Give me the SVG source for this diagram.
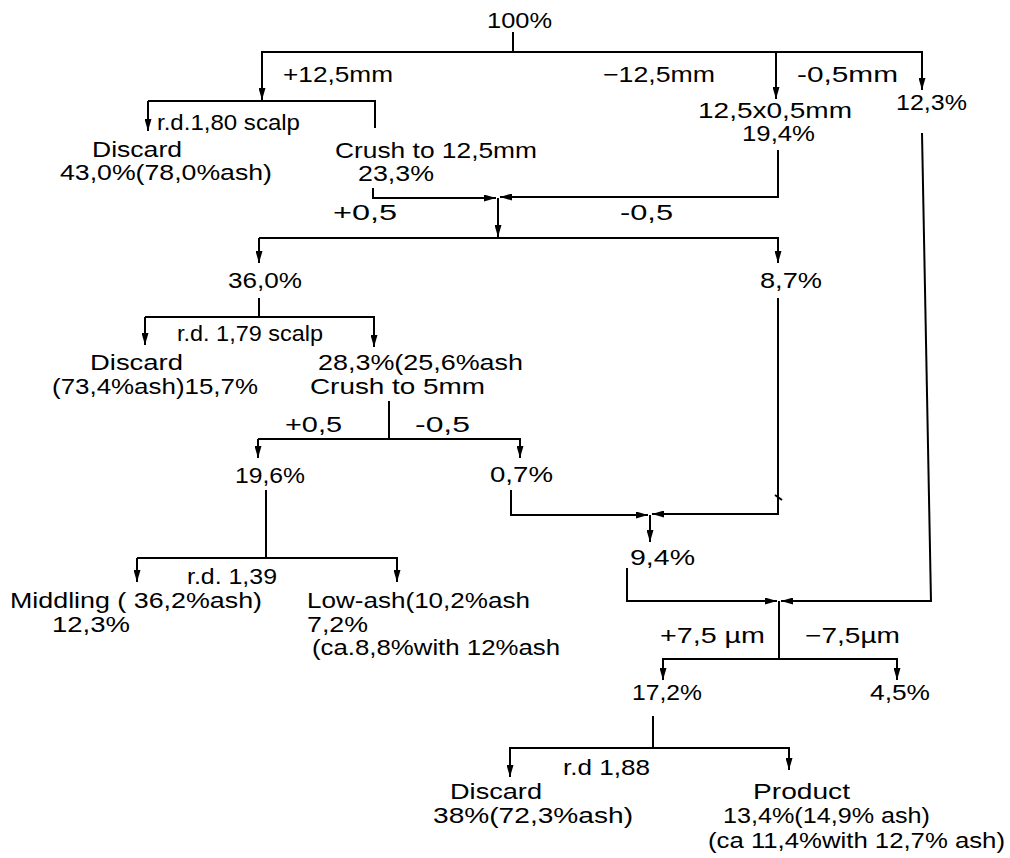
<svg xmlns="http://www.w3.org/2000/svg" width="1010" height="858" viewBox="0 0 1010 858">
<style>
text{font-family:"Liberation Sans","DejaVu Sans",sans-serif;font-size:22px;fill:#000}
.c line,.c polyline{stroke:#000;stroke-width:2;fill:none}
.a{marker-end:url(#ah)}
</style>
<defs>
<marker id="ah" markerUnits="userSpaceOnUse" markerWidth="12" markerHeight="7" refX="12" refY="3.5" orient="auto">
<path d="M0,0 L12,3.5 L0,7 Z" fill="#000"/>
</marker>
</defs>
<rect width="1010" height="858" fill="#fff"/>
<g id="connectors" class="c">
<line x1="513" y1="32" x2="513" y2="52"/>
<line x1="261" y1="52" x2="923" y2="52"/>
<line class="a" x1="262" y1="52" x2="262" y2="100"/>
<line class="a" x1="776" y1="52" x2="776" y2="99"/>
<line class="a" x1="922" y1="52" x2="922" y2="90"/>
<polyline points="148,101 375,101 375,128"/>
<line class="a" x1="148" y1="101" x2="148" y2="131"/>
<line x1="922" y1="133" x2="931" y2="602"/>
<polyline class="a" points="373,188 373,198 496,198"/>
<polyline class="a" points="778,150 778,197 500,197"/>
<line class="a" x1="498" y1="198" x2="498" y2="237"/>
<line x1="259" y1="238" x2="779" y2="238"/>
<line class="a" x1="259" y1="238" x2="259" y2="263"/>
<line class="a" x1="778" y1="238" x2="778" y2="263"/>
<line x1="259" y1="298" x2="259" y2="317"/>
<line x1="145" y1="317" x2="375" y2="317"/>
<line class="a" x1="145" y1="317" x2="145" y2="345"/>
<line class="a" x1="374" y1="317" x2="374" y2="347"/>
<line x1="389" y1="401" x2="389" y2="439"/>
<line x1="258" y1="439" x2="521" y2="439"/>
<line class="a" x1="258" y1="439" x2="258" y2="458"/>
<line class="a" x1="520" y1="439" x2="520" y2="458"/>
<line x1="266" y1="490" x2="266" y2="558"/>
<line x1="137" y1="558" x2="398" y2="558"/>
<line class="a" x1="137" y1="558" x2="137" y2="582"/>
<line class="a" x1="397" y1="558" x2="397" y2="582"/>
<polyline class="a" points="511,490 511,515 648,515"/>
<polyline class="a" points="778,298 778,514 652,514"/>
<line x1="775" y1="495" x2="782" y2="500"/>
<line class="a" x1="650" y1="515" x2="650" y2="542"/>
<polyline class="a" points="627,568 627,601 777,601"/>
<line class="a" x1="931" y1="601" x2="781" y2="601"/>
<line x1="779" y1="601" x2="779" y2="659"/>
<line x1="662" y1="659" x2="898" y2="659"/>
<line class="a" x1="897" y1="659" x2="897" y2="680"/>
<line class="a" x1="663" y1="659" x2="663" y2="680"/>
<line x1="653" y1="716" x2="653" y2="748"/>
<line x1="509" y1="748" x2="790" y2="748"/>
<line class="a" x1="510" y1="748" x2="510" y2="777"/>
<line class="a" x1="789" y1="748" x2="789" y2="770"/>
</g>
<g id="n-feed"><text x="487" y="28" textLength="65" lengthAdjust="spacingAndGlyphs">100%</text></g>
<g id="l-top">
<text x="283" y="82" textLength="110" lengthAdjust="spacingAndGlyphs">+12,5mm</text>
<text x="603" y="82" textLength="112" lengthAdjust="spacingAndGlyphs">−12,5mm</text>
<text x="797" y="82" textLength="101" lengthAdjust="spacingAndGlyphs">-0,5mm</text>
</g>
<g id="n-fines1"><text x="896" y="110" textLength="71" lengthAdjust="spacingAndGlyphs">12,3%</text></g>
<g id="n-mid1">
<text x="698" y="118" textLength="154" lengthAdjust="spacingAndGlyphs">12,5x0,5mm</text>
<text x="742" y="141" textLength="73" lengthAdjust="spacingAndGlyphs">19,4%</text>
</g>
<g id="l-scalp1"><text x="157" y="130" textLength="143" lengthAdjust="spacingAndGlyphs">r.d.1,80 scalp</text></g>
<g id="n-discard1">
<text x="92" y="157" textLength="90" lengthAdjust="spacingAndGlyphs">Discard</text>
<text x="60" y="180" textLength="212" lengthAdjust="spacingAndGlyphs">43,0%(78,0%ash)</text>
</g>
<g id="n-crush1">
<text x="335" y="158" textLength="202" lengthAdjust="spacingAndGlyphs">Crush to 12,5mm</text>
<text x="358" y="181" textLength="76" lengthAdjust="spacingAndGlyphs">23,3%</text>
</g>
<g id="l-split2">
<text x="333" y="220" textLength="64" lengthAdjust="spacingAndGlyphs">+0,5</text>
<text x="620" y="220" textLength="53" lengthAdjust="spacingAndGlyphs">-0,5</text>
</g>
<g id="n-coarse2"><text x="228" y="288" textLength="74" lengthAdjust="spacingAndGlyphs">36,0%</text></g>
<g id="n-fines2"><text x="760" y="288" textLength="62" lengthAdjust="spacingAndGlyphs">8,7%</text></g>
<g id="l-scalp2"><text x="177" y="341" textLength="146" lengthAdjust="spacingAndGlyphs">r.d. 1,79 scalp</text></g>
<g id="n-discard2">
<text x="90" y="370" textLength="93" lengthAdjust="spacingAndGlyphs">Discard</text>
<text x="52" y="394" textLength="206" lengthAdjust="spacingAndGlyphs">(73,4%ash)15,7%</text>
</g>
<g id="n-crush2">
<text x="318" y="370" textLength="205" lengthAdjust="spacingAndGlyphs">28,3%(25,6%ash</text>
<text x="310" y="394" textLength="175" lengthAdjust="spacingAndGlyphs">Crush to 5mm</text>
</g>
<g id="l-split3">
<text x="285" y="432" textLength="57" lengthAdjust="spacingAndGlyphs">+0,5</text>
<text x="415" y="432" textLength="55" lengthAdjust="spacingAndGlyphs">-0,5</text>
</g>
<g id="n-coarse3"><text x="235" y="483" textLength="70" lengthAdjust="spacingAndGlyphs">19,6%</text></g>
<g id="n-fines3"><text x="490" y="482" textLength="63" lengthAdjust="spacingAndGlyphs">0,7%</text></g>
<g id="n-combined"><text x="630" y="565" textLength="65" lengthAdjust="spacingAndGlyphs">9,4%</text></g>
<g id="l-rd139"><text x="187" y="584" textLength="90" lengthAdjust="spacingAndGlyphs">r.d. 1,39</text></g>
<g id="n-middling">
<text x="10" y="608" textLength="252" lengthAdjust="spacingAndGlyphs">Middling ( 36,2%ash)</text>
<text x="52" y="632" textLength="78" lengthAdjust="spacingAndGlyphs">12,3%</text>
</g>
<g id="n-lowash">
<text x="307" y="608" textLength="223" lengthAdjust="spacingAndGlyphs">Low-ash(10,2%ash</text>
<text x="307" y="632" textLength="61" lengthAdjust="spacingAndGlyphs">7,2%</text>
<text x="312" y="655" textLength="248" lengthAdjust="spacingAndGlyphs">(ca.8,8%with 12%ash</text>
</g>
<g id="l-split4">
<text x="660" y="643" textLength="105" lengthAdjust="spacingAndGlyphs">+7,5 µm</text>
<text x="805" y="643" textLength="95" lengthAdjust="spacingAndGlyphs">−7,5µm</text>
</g>
<g id="n-coarse4"><text x="632" y="700" textLength="70" lengthAdjust="spacingAndGlyphs">17,2%</text></g>
<g id="n-fines4"><text x="870" y="700" textLength="60" lengthAdjust="spacingAndGlyphs">4,5%</text></g>
<g id="l-rd188"><text x="563" y="775" textLength="87" lengthAdjust="spacingAndGlyphs">r.d 1,88</text></g>
<g id="n-discard3">
<text x="450" y="799" textLength="92" lengthAdjust="spacingAndGlyphs">Discard</text>
<text x="433" y="823" textLength="200" lengthAdjust="spacingAndGlyphs">38%(72,3%ash)</text>
</g>
<g id="n-product">
<text x="753" y="799" textLength="97" lengthAdjust="spacingAndGlyphs">Product</text>
<text x="723" y="823" textLength="207" lengthAdjust="spacingAndGlyphs">13,4%(14,9% ash)</text>
<text x="708" y="848" textLength="297" lengthAdjust="spacingAndGlyphs">(ca 11,4%with 12,7% ash)</text>
</g>
</svg>
